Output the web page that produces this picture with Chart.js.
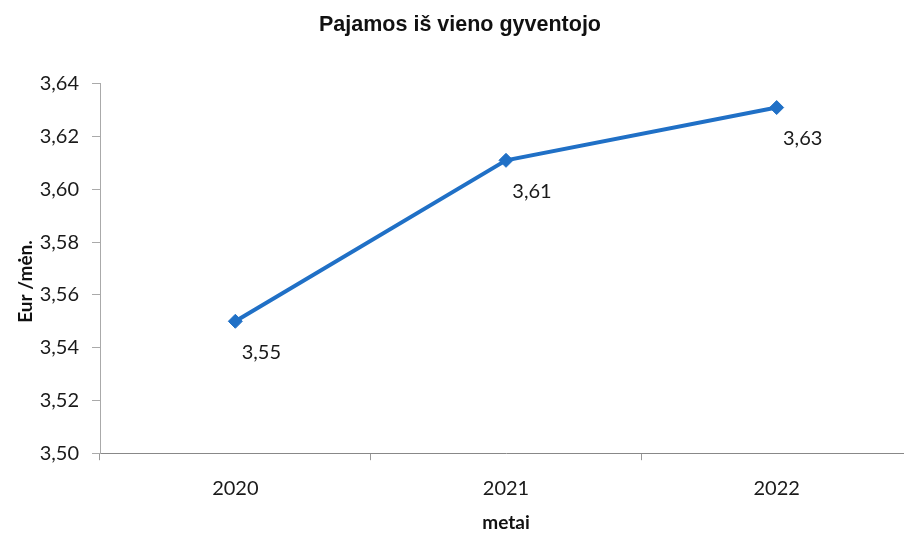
<!DOCTYPE html>
<html>
<head>
<meta charset="utf-8">
<script src="https://cdn.jsdelivr.net/npm/chart.js@4/dist/chart.umd.min.js"></script>
<style>
html,body{margin:0;padding:0;background:#fff;overflow:hidden;}
#wrap{width:904px;height:534px;position:relative;overflow:hidden;}
</style>
</head>
<body>
<div id="wrap"><canvas id="c" width="920" height="534"></canvas></div>
<script>
const categories = ['2020', '2021', '2022'];
const values = [3.55, 3.611, 3.631];
const valueLabels = ['3,55', '3,61', '3,63'];
const chartTitle = 'Pajamos iš vieno gyventojo';
const yTitle = 'Eur /mėn.';
const xTitle = 'metai';
const yMin = 3.50, yMax = 3.64, yStep = 0.02;

const labelFont = '20px Lato, "Open Sans", sans-serif';

const extras = {
  id: 'extras',
  afterDatasetsDraw(chart) {
    const ctx = chart.ctx;
    const meta = chart.getDatasetMeta(0);
    ctx.save();
    ctx.font = labelFont;
    ctx.fillStyle = '#1a1a1a';
    ctx.textAlign = 'center';
    ctx.textBaseline = 'middle';
    meta.data.forEach((pt, i) => {
      ctx.fillText(valueLabels[i], pt.x + 26, pt.y + 31);
    });
    // y axis title
    const ca = chart.chartArea;
    ctx.translate(26, (ca.top + ca.bottom) / 2 + 13);
    ctx.rotate(-Math.PI / 2);
    ctx.font = 'bold 19px Lato, "Open Sans", sans-serif';
    ctx.fillStyle = '#111';
    ctx.fillText(yTitle, 0, 0);
    ctx.restore();
  }
};

new Chart(document.getElementById('c'), {
  type: 'line',
  data: {
    labels: categories,
    datasets: [{
      data: values,
      borderColor: '#2070C6',
      backgroundColor: '#2070C6',
      borderWidth: 4,
      pointStyle: 'rectRot',
      pointRadius: 7,
      pointBorderWidth: 1,
      tension: 0,
      fill: false
    }]
  },
  options: {
    responsive: false,
    animation: false,
    devicePixelRatio: 1,
    layout: { padding: { left: 0, right: 0, top: 0, bottom: 0 } },
    plugins: {
      legend: { display: false },
      tooltip: { enabled: false },
      title: {
        display: true,
        text: chartTitle,
        color: '#111',
        font: { family: '"Liberation Sans", Arial, sans-serif', size: 21.5, weight: 'bold' },
        padding: { top: 12, bottom: 46 }
      }
    },
    scales: {
      x: {
        offset: true,
        grid: { display: true, drawOnChartArea: false, offset: true, tickLength: 7, color: '#999' },
        border: { display: true, color: '#888', width: 1 },
        ticks: { color: '#1a1a1a', font: { family: 'Lato, "Open Sans", sans-serif', size: 20 }, padding: 16 },
        title: { display: true, text: xTitle, color: '#111', font: { family: 'Lato, "Open Sans", sans-serif', size: 19, weight: 'bold' }, padding: { top: -5, bottom: 0 } }
      },
      y: {
        min: yMin, max: yMax,
        afterFit: s => { s.width = 100; },
        grid: { display: true, drawOnChartArea: false, tickLength: 8, color: '#aaa' },
        border: { display: true, color: '#aaa', width: 1 },
        ticks: {
          stepSize: yStep,
          color: '#1a1a1a',
          font: { family: 'Lato, "Open Sans", sans-serif', size: 20 },
          padding: 13,
          callback: v => Number(v).toFixed(2).replace('.', ',')
        }
      }
    }
  },
  plugins: [extras]
});
</script>
</body>
</html>
